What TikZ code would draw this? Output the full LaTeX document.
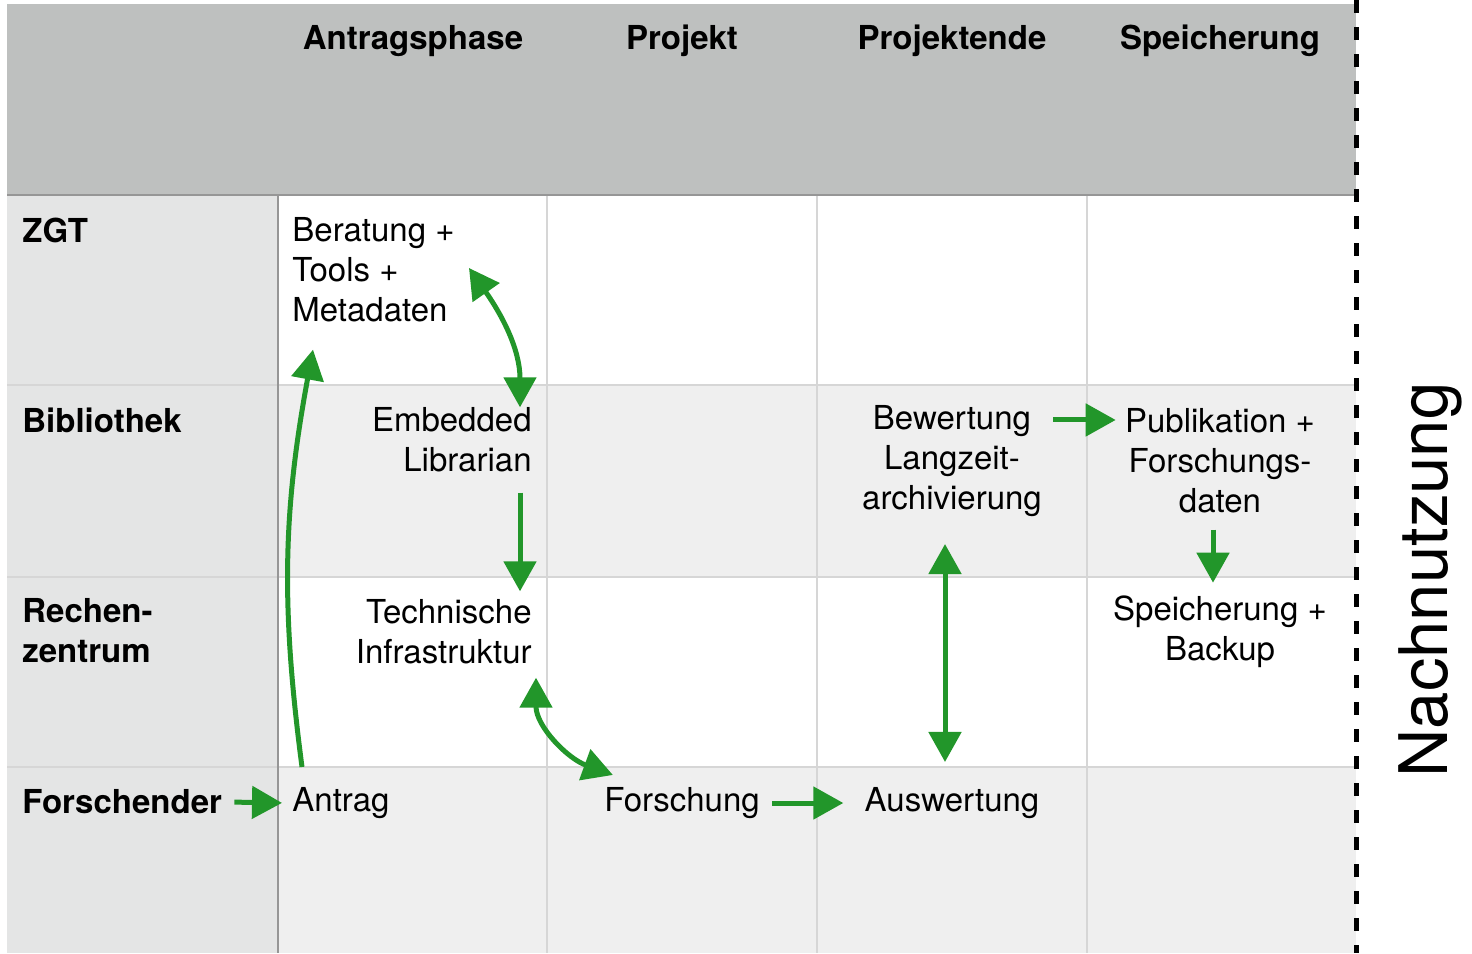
\documentclass[tikz,border=0pt]{standalone}
\usepackage{fontspec}
\setmainfont{TeX Gyre Heros}
\usetikzlibrary{arrows.meta, calc}

\definecolor{headgray}{RGB}{190,192,191}
\definecolor{labelgray}{RGB}{228,229,229}
\definecolor{rowgray}{RGB}{239,239,239}
\definecolor{gridgray}{RGB}{214,214,214}
\definecolor{edgegray}{RGB}{150,150,150}
\definecolor{arrowgreen}{RGB}{34,150,42}

\newcommand{\tablefont}{\fontsize{16.5}{20}\selectfont}

\begin{document}
\begin{tikzpicture}[x = 0.5pt, y = -0.5pt, > = {Triangle[length = 15pt, width = 16pt]}, font = \tablefont,
	cell/.style = {inner sep = 2.5pt},
	head/.style = {cell, font = \tablefont\bfseries},
	rowlabel/.style = {cell, font = \tablefont\bfseries, align = left, anchor = west}]

	% Background
	
		\useasboundingbox (0, 0) rectangle (1472, 953);
		
		\fill [headgray] (7, 4) rectangle (1356, 195);
		\fill [labelgray] (7, 195) rectangle (278, 953);
		\fill [rowgray] (278, 385) rectangle (1356, 577);
		\fill [rowgray] (278, 767) rectangle (1356, 953);
		
	% Grid lines
	
		\begin{scope}[gridgray, line width = 0.6pt]
		
			\foreach \y in {385, 577, 767} \draw (7, \y) -- (1356, \y);
			\foreach \x in {547, 817, 1087} \draw (\x, 195) -- (\x, 953);
		
		\end{scope}
		
		\draw [edgegray, line width = 0.6pt] (7, 195) -- (1356, 195);
		\draw [edgegray, line width = 0.6pt] (278, 195) -- (278, 953);
		
	% Separator line
	
	\draw [line width = 2.5pt, dash pattern = on 6.5pt off 7pt] (1356, 0) -- (1356, 953);
	
	\node (reuse) [cell, rotate = 90, font = \fontsize{33.5}{36}\selectfont] at (1430, 580) {Nachnutzung};
	
	% Phases
	
		\node (phase1) [head] at (413, 41) {Antragsphase};
		\node (phase2) [head] at (682, 41) {Projekt};
		\node (phase3) [head] at (952, 41) {Projektende};
		\node (phase4) [head] at (1220, 41) {Speicherung};
		
	% Actors
	
		\node (zgt) [rowlabel] at (17, 230) {ZGT};
		\node (bibliothek) [rowlabel] at (17, 420) {Bibliothek};
		\node (rechenzentrum) [rowlabel] at (17, 631) {Rechen-\\zentrum};
		\node (forschender) [rowlabel] at (17, 802) {Forschender};
		
	% Tasks
	
		\node (beratung) [cell, align = left, anchor = west] at (287, 270) {Beratung +\\Tools +\\Metadaten};
		\node (embedded) [cell, align = right, anchor = east] at (537, 440) {Embedded\\Librarian};
		\node (technische) [cell, align = right, anchor = east] at (537, 632) {Technische\\Infrastruktur};
		\node (antrag) [cell, anchor = west] at (287, 803) {Antrag};
		\node (forschung) [cell] at (682, 803) {Forschung};
		\node (auswertung) [cell] at (952, 803) {Auswertung};
		\node (bewertung) [cell, align = center] at (952, 461) {Bewertung\\Langzeit-\\archivierung};
		\node (publikation) [cell, align = center] at (1220, 461) {Publikation +\\Forschungs-\\daten};
		\node (speicherung) [cell, align = center] at (1220, 632) {Speicherung +\\Backup};
		
		\coordinate (handover) at ($(bewertung.north east) + (6, 20)$);
		
	% Vectors for the work flow
	
		\begin{scope}[->, arrowgreen, line width = 2.5pt]
		
			\draw [shorten <= 3.5pt, shorten >= 2.5pt] (forschender.east) -- (antrag.west);
			\draw ($(antrag.north west) + (15, -15)$) to [bend left = 9] ($(beratung.south west) + (26, 22)$);
			\draw [<->] ($(beratung.east) + (9, -2)$) to [out = -55, in = 90] ($(embedded.north east) + (-17, 5)$);
			\draw ($(embedded.south east) + (-17, 15)$) -- ($(technische.north east) + (-17, -3)$);
			\draw [<->] ($(technische.south east) + (-1, 8)$) to [out = -90, in = 160] ($(forschung.north west) + (14, -7)$);
			\draw [shorten <= 3.5pt, shorten >= 8pt] (forschung.east) -- (auswertung.west);
			\draw [<->] ($(bewertung.south) + (-7, 22)$) -- ($(auswertung.north) + (-7, -20)$);
			\draw [shorten >= 2pt] (handover) -- (handover -| publikation.west);
			\draw ($(publikation.south) + (-7, 11)$) -- ($(speicherung.north) + (-7, -8)$);
		
		\end{scope}

\end{tikzpicture}
\end{document}
